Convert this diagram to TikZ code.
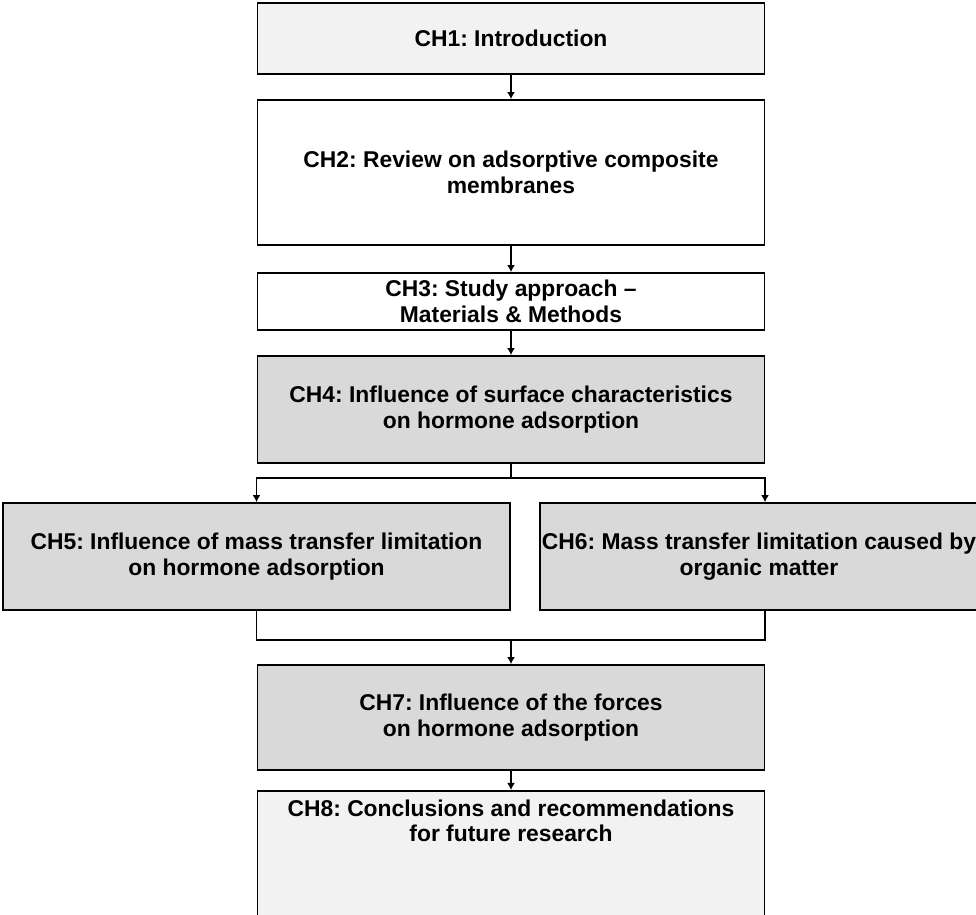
\documentclass[tikz,border=0pt]{standalone}
\usepackage{fontspec}
\setmainfont{Liberation Sans}
\usepackage{tikz}
\usepackage{xcolor}
\usetikzlibrary{arrows.meta}
\frenchspacing

\definecolor{lightbox}{HTML}{F2F2F2}
\definecolor{darkbox}{HTML}{D9D9D9}

\begin{document}
\begin{tikzpicture}[x=0.02cm, y=-0.02cm, >={Latex[length=4pt,width=4.5pt]},
    chbox/.style={draw, line width=1pt, minimum width=10.14cm, inner sep=0pt, align=center,
        font=\fontsize{13}{14.5}\selectfont\bfseries},
    chtext/.style={inner sep=0pt, align=center, font=\fontsize{13}{14.5}\selectfont\bfseries},
    link/.style={line width=0.8pt}]

    % Canvas
    \useasboundingbox (0,0) rectangle (976,915);
    \clip (0,0) rectangle (976,915);

    % Chapter boxes
    \node[chbox, fill=lightbox, minimum height=1.42cm] (ch1) at (511,38.5) {CH1: Introduction};
    \node[chbox, fill=white, minimum height=2.9cm] (ch2) at (511,172.5) {CH2: Review on adsorptive composite\\membranes};
    \node[chbox, fill=white, minimum height=1.14cm] (ch3) at (511,301.5) {CH3: Study approach --\\Materials \& Methods};
    \node[chbox, fill=darkbox, minimum height=2.14cm] (ch4) at (511,409.5) {CH4: Influence of surface characteristics\\on hormone adsorption};
    \node[chbox, fill=darkbox, minimum height=2.14cm] (ch5) at (256.5,556.5) {CH5: Influence of mass transfer limitation\\on hormone adsorption};
    \node[chbox, fill=darkbox, minimum height=2.14cm, minimum width=9cm] (ch6) at (765,556.5) {};
    \node[chtext] (ch6text) at (759,556.5) {CH6: Mass transfer limitation caused by\\organic matter};
    \node[chbox, fill=darkbox, minimum height=2.1cm] (ch7) at (511,717.5) {CH7: Influence of the forces\\on hormone adsorption};
    \node[chbox, fill=lightbox, minimum height=3cm, anchor=north] (ch8) at (511,790) {};
    \node[chtext] (ch8text) at (511,821) {CH8: Conclusions and recommendations\\for future research};

    % Straight links
    \draw[link, ->] (ch1) -- (ch2);
    \draw[link, ->] (ch2) -- (ch3);
    \draw[link, ->] (ch3) -- (ch4);
    \draw[link, ->] (ch7) -- (ch8);

    % Split after CH4
    \coordinate (split) at (511,478);
    \draw[link] (ch4) -- (split);
    \draw[link, ->] (split) -| (ch5.north);
    \draw[link, ->] (split) -| (ch6.north);

    % Merge into CH7
    \coordinate (merge) at (511,640);
    \draw[link] (ch5.south) |- (merge) -| (ch6.south);
    \draw[link, ->] (merge) -- (ch7);

\end{tikzpicture}
\end{document}
